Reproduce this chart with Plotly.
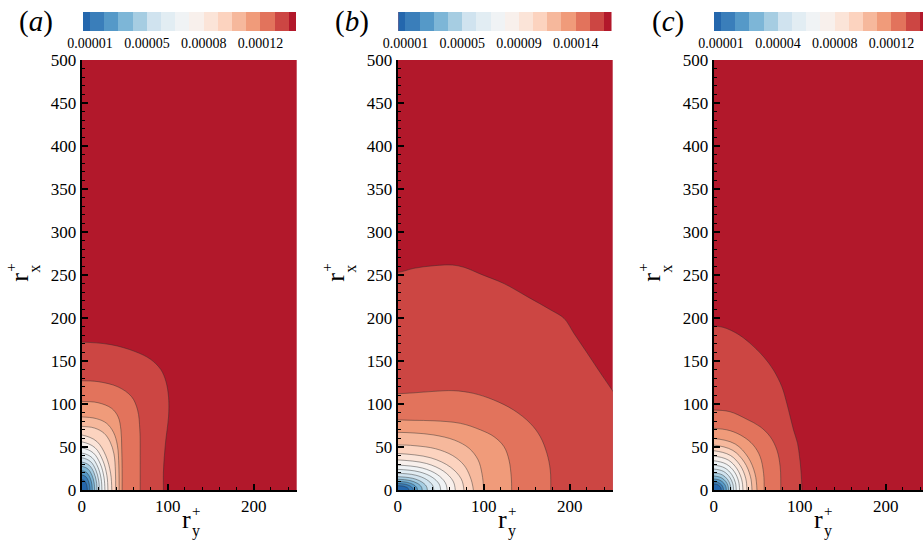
import plotly.graph_objects as go

W, H = 923, 548
FONT = "Liberation Serif"

# 16 discrete colour levels (blue -> red), lowest band first
LEVEL_COLORS = ["#2467ad", "#3a7eba", "#5599c8", "#7db6d7", "#a6cde2", "#d0e3ef",
                "#e2edf3", "#f0f3f5", "#f8f0ec", "#fbe4d8", "#fcd3bf", "#f6b89c",
                "#f09b7a", "#e2735c", "#cc4643", "#b2182b"]

# colour-bar tick labels (placed at contour boundaries 0, 4, 8, 12)
CB_TICK_BOUNDARY = [0, 4, 8, 12]
CB_LABELS_A = ["0.00001", "0.00005", "0.00008", "0.00012"]
CB_LABELS_B = ["0.00001", "0.00005", "0.00009", "0.00014"]
CB_LABELS_C = ["0.00001", "0.00004", "0.00008", "0.00012"]

PANEL_LABELS = ["a", "b", "c"]
X_TICKS = [0, 100, 200]
Y_TICKS = [0, 50, 100, 150, 200, 250, 300, 350, 400, 450, 500]

# contour boundaries (r_y+, r_x+), boundary 0 (innermost) .. 14
CONTOURS_A = [
    [(0, 12), (3.3, 10.6), (5.2, 7.4), (6.2, 3.6), (6.5, 0)],
    [(0, 17.5), (4.8, 15.4), (7.6, 10.9), (9.1, 5.3), (9.5, 0)],
    [(0, 22.5), (6.2, 19.8), (9.8, 14), (11.8, 6.8), (12.3, 0)],
    [(0, 27.5), (7.5, 24.2), (12, 17), (14.4, 8.3), (15, 0)],
    [(0, 32.5), (8.9, 28.6), (14.2, 20.2), (17.1, 9.8), (17.8, 0)],
    [(0, 37.5), (10.3, 33), (16.4, 23.3), (19.7, 11.3), (20.5, 0)],
    [(0, 43), (11.8, 37.8), (18.8, 26.7), (22.6, 13), (23.5, 0)],
    [(0, 49), (13.5, 43.1), (21.6, 30.4), (25.9, 14.8), (27, 0)],
    [(0, 56), (15.3, 49.3), (24.4, 34.7), (29.3, 16.9), (30.5, 0)],
    [(0, 64), (17.5, 56.5), (28, 40), (33.6, 19.5), (35, 0)],
    [(0, 74), (15, 72), (26, 66), (33, 56), (37.5, 42), (39.2, 22), (39.5, 0)],
    [(0, 85), (17, 83), (29, 77.5), (37, 67), (41.5, 52), (43.2, 28), (43.5, 0)],
    [(0, 103), (19, 101.5), (34.7, 95), (42.4, 85), (45.6, 70), (46.5, 50), (47, 25), (47, 0)],
    [(0, 127), (19, 126), (42, 120), (58, 108.5), (65, 93), (67.6, 70), (68, 40), (68, 0)],
    [(0, 172), (34, 169), (62, 161), (80, 152), (92, 140), (98, 126), (101, 108),
     (101, 85), (98, 60), (96, 38), (95, 20), (95, 0)],
]

CONTOURS_B = [
    [(0, 5), (6.5, 4.4), (10.4, 3.1), (12.5, 1.5), (13, 0)],
    [(0, 7.5), (9, 6.6), (14.4, 4.7), (17.3, 2.3), (18, 0)],
    [(0, 10), (11.5, 8.8), (18.4, 6.2), (22.1, 3), (23, 0)],
    [(0, 12.5), (14.3, 11), (22.8, 7.8), (27.4, 3.8), (28.5, 0)],
    [(0, 15.5), (17.3, 13.6), (27.6, 9.6), (33.1, 4.7), (34.5, 0)],
    [(0, 19.5), (21, 17.2), (33.6, 12.1), (40.3, 5.9), (42, 0)],
    [(0, 24), (25, 21.1), (40, 14.9), (48, 7.2), (50, 0)],
    [(0, 29), (28.8, 25.5), (46, 18), (55.2, 8.7), (57.5, 0)],
    [(0, 35), (33.5, 30.8), (53.6, 21.7), (64.3, 10.5), (67, 0)],
    [(0, 42.5), (38.5, 37.4), (61.6, 26.4), (73.9, 12.8), (77, 0)],
    [(0, 52.5), (20, 51.5), (44, 48), (64, 40), (77, 29), (84, 16), (88, 0)],
    [(0, 67), (19, 66.3), (42, 64), (66, 58), (83, 48.5), (93.5, 35), (98, 19), (100, 0)],
    [(0, 81.5), (19, 81), (42, 80.5), (73, 77.5), (96.5, 69.8), (112, 62), (123.6, 50.4),
     (129.4, 35), (132, 15.5), (132.5, 0)],
    [(0, 112), (19, 113), (42, 114.7), (65, 115.5), (88, 112.4), (111.6, 104.7), (134.8, 93),
     (154.2, 77.5), (165.8, 62), (173.5, 42.6), (177.4, 23.3), (178, 0)],
    [(0, 253), (19, 257.8), (42, 260.8), (63.5, 261.6), (77, 259), (96.5, 251), (123.6, 240),
     (150.7, 224.8), (178, 209.3), (193.4, 199.6), (205, 182), (220.5, 159), (236, 135.7),
     (249.5, 116)],
]

CONTOURS_C = [
    [(0, 7), (4.4, 6.2), (7, 4.3), (8.4, 2.1), (8.7, 0)],
    [(0, 9.7), (5.7, 8.5), (9.1, 6), (10.9, 2.9), (11.4, 0)],
    [(0, 12.8), (7.4, 11.3), (11.8, 7.9), (14.1, 3.8), (14.7, 0)],
    [(0, 16.3), (8.7, 14.3), (13.8, 10.1), (16.6, 4.9), (17.3, 0)],
    [(0, 20), (10, 17.6), (16, 12.4), (19.2, 6), (20, 0)],
    [(0, 24.4), (11.6, 21.5), (18.5, 15.1), (22.2, 7.3), (23.1, 0)],
    [(0, 29), (13.1, 25.5), (21, 18), (25.2, 8.7), (26.2, 0)],
    [(0, 34), (15, 29.9), (24.1, 21.1), (28.9, 10.2), (30.1, 0)],
    [(0, 39.5), (17, 34.8), (27.2, 24.5), (32.6, 11.9), (34, 0)],
    [(0, 45.7), (19.4, 40.2), (31, 28.3), (37.2, 13.7), (38.7, 0)],
    [(0, 52.3), (22.3, 46), (35.6, 32.4), (42.7, 15.7), (44.5, 0)],
    [(0, 60), (25, 53.5), (40, 38), (48, 19), (50.3, 0)],
    [(0, 71.7), (19, 69), (34.4, 62), (46, 52.3), (54, 38.8), (58, 19.4), (58.7, 0)],
    [(0, 93), (19, 91), (38.6, 82.2), (54, 73.6), (65.7, 62), (73.5, 46.5), (77.3, 27), (78, 0)],
    [(0, 190.7), (11.4, 189), (27, 182), (42.4, 170.5), (58, 155), (69.5, 139.5), (79.3, 120),
     (85, 100.8), (89, 85), (92.8, 69.8), (97.5, 54.3), (99.8, 38.8), (101.4, 23.3), (102.6, 0)],
]

PANELS = [CONTOURS_A, CONTOURS_B, CONTOURS_C]
CB_LABELS = [CB_LABELS_A, CB_LABELS_B, CB_LABELS_C]

# ---------------- layout geometry (pixels) ----------------
PX_PER_UNIT = 0.86
AX_LEFT = [81.7, 397.7, 713.7]
PLOT_TOP, PLOT_BOT = 60, 490
CB_LEFT = [83.0, 398.3, 714.0]
CB_W = 213.0
CB_TOP, CB_BOT = 12, 31


def px(x):
    return x / W


def py(y):
    return 1 - y / H


def closed_path(pts):
    xs = [p[0] for p in pts]
    ys = [p[1] for p in pts]
    x = [-30] + xs
    y = [ys[0]] + ys
    lx, ly = xs[-1], ys[-1]
    if ly > 0:  # leaves through the right edge
        dx, dy = xs[-1] - xs[-2], ys[-1] - ys[-2]
        x += [lx + 1.5 * dx, lx + 40, lx + 40]
        y += [ly + 1.5 * dy, ly + 1.5 * dy - 40, -30]
    else:
        x += [lx]
        y += [-30]
    x += [-30]
    y += [-30]
    return x, y


fig = go.Figure()
layout = dict(
    width=W, height=H, margin=dict(l=0, r=0, t=0, b=0, pad=0, autoexpand=False),
    autosize=False,
    paper_bgcolor="white", plot_bgcolor=LEVEL_COLORS[-1],
    showlegend=False, font=dict(family=FONT, color="black"),
)
annotations = []

for i, contours in enumerate(PANELS):
    n = i + 1
    xa = "x" if n == 1 else f"x{n}"
    ya = "y" if n == 1 else f"y{n}"
    x0 = AX_LEFT[i]
    x_end = min(x0 + 250 * PX_PER_UNIT, W)
    xmax = (x_end - x0) / PX_PER_UNIT
    for k in range(len(contours) - 1, -1, -1):
        cx, cy = closed_path(contours[k])
        fig.add_trace(go.Scatter(
            x=cx, y=cy, xaxis=xa, yaxis=ya, mode="lines", fill="toself",
            fillcolor=LEVEL_COLORS[k],
            line=dict(color="rgba(45,45,45,0.75)", width=0.6, shape="spline", smoothing=1.0),
            hoverinfo="skip"))
    axis_common = dict(
        showline=True, linecolor="black", linewidth=2, ticks="inside", tickcolor="black",
        tickwidth=1.5, ticklen=6, showgrid=False, zeroline=False, automargin=False,
        tickfont=dict(family=FONT, size=17, color="black"),
    )
    layout["xaxis" if n == 1 else f"xaxis{n}"] = dict(
        axis_common, domain=[px(x0), px(x_end)], range=[0, xmax], anchor=ya,
        tickmode="array", tickvals=X_TICKS,
        minor=dict(ticks="inside", ticklen=3, tickcolor="black", tickwidth=1, dtick=20, tick0=0),
    )
    layout["yaxis" if n == 1 else f"yaxis{n}"] = dict(
        axis_common, domain=[py(PLOT_BOT), py(PLOT_TOP)], range=[0, 500], anchor=xa,
        tickmode="array", tickvals=Y_TICKS,
        minor=dict(ticks="inside", ticklen=3, tickcolor="black", tickwidth=1, dtick=10, tick0=0),
    )

    # ----- colour bar as a discrete heat-map strip -----
    m = n + 3
    cxa, cya = f"x{m}", f"y{m}"
    cb_left = CB_LEFT[i]
    cb_end = min(cb_left + CB_W, W)
    cb_range = (cb_end - cb_left) / CB_W * (len(LEVEL_COLORS) - 1)
    nlev = len(LEVEL_COLORS)
    fig.add_trace(go.Heatmap(
        z=[list(range(nlev))], x=list(range(nlev)), y=[0], xaxis=cxa, yaxis=cya,
        colorscale=[[j / (nlev - 1), c] for j, c in enumerate(LEVEL_COLORS)],
        zmin=0, zmax=nlev - 1, showscale=False, hoverinfo="skip"))
    layout[f"xaxis{m}"] = dict(
        domain=[px(cb_left), px(cb_end)], range=[0, cb_range], anchor=cya,
        tickmode="array", tickvals=[b + 0.5 for b in CB_TICK_BOUNDARY], ticktext=CB_LABELS[i],
        ticks="", showline=False, showgrid=False, zeroline=False, automargin=False,
        tickfont=dict(family=FONT, size=14, color="black"), ticklabelstandoff=2,
    )
    layout[f"yaxis{m}"] = dict(
        domain=[py(CB_BOT), py(CB_TOP)], range=[-0.5, 0.5], anchor=cxa, visible=False,
    )

    # ----- panel label -----
    annotations.append(dict(
        text=f"(<i>{PANEL_LABELS[i]}</i>)", xref="paper", yref="paper",
        x=px(x0 - 46), y=py(21), xanchor="center", yanchor="middle", showarrow=False,
        font=dict(family=FONT, size=29, color="black")))
    # ----- x title r_y^+ -----
    for txt, dx, yy, sz in [("r", 104.5, 519, 26), ("+", 114, 511, 15), ("y", 114, 531, 16)]:
        annotations.append(dict(
            text=txt, xref="paper", yref="paper", x=px(x0 + dx), y=py(yy),
            xanchor="center", yanchor="middle", showarrow=False,
            font=dict(family=FONT, size=sz, color="black")))
    # ----- y title r_x^+ (rotated) -----
    for txt, dx, yy, sz in [("r", -62.5, 277.5, 26), ("+", -71, 268, 15), ("x", -48, 269, 16)]:
        annotations.append(dict(
            text=txt, xref="paper", yref="paper", x=px(x0 + dx), y=py(yy),
            xanchor="center", yanchor="middle", showarrow=False, textangle=-90,
            font=dict(family=FONT, size=sz, color="black")))

layout["annotations"] = annotations
fig.update_layout(**layout)
fig.write_html("out.html")
